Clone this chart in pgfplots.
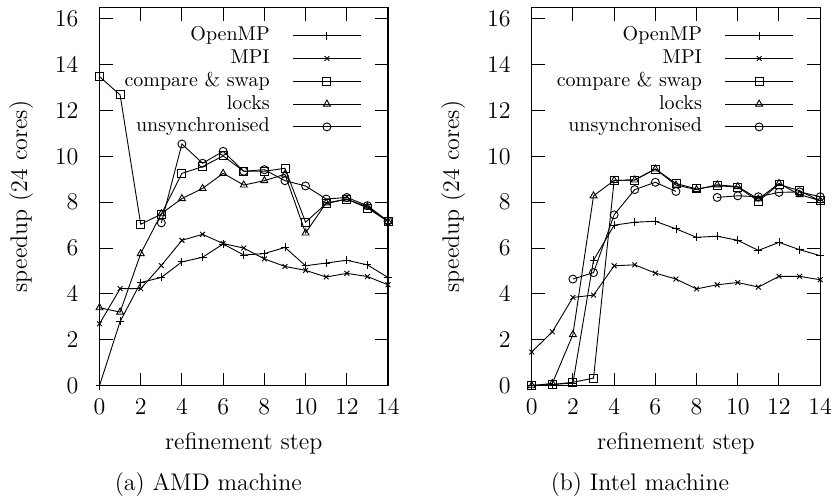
\documentclass[border=0pt]{standalone}
\usepackage{pgfplots}
\pgfplotsset{compat=1.18}
\begin{document}
\begin{tikzpicture}
\path[use as bounding box] (0,0) rectangle (417pt,250pt);
\pgfplotsset{
  speedup/.style={
    scale only axis, width=144.25pt, height=189.2pt,
    anchor=south west,
    xmin=0, xmax=14, ymin=0, ymax=16.5,
    xtick={0,2,...,14}, ytick={0,2,...,16},
    major tick length=6.6pt,
    tick style={line width=0.5pt, black},
    axis line style={line width=0.6pt},
    tick label style={font=\large},
    xticklabel style={yshift=-3.35pt},
    yticklabel style={xshift=-7pt},
    xlabel={refinement step}, ylabel={speedup (24 cores)},
    label style={font=\large},
    xlabel style={at={(axis description cs:0.5,-0.1514)}, anchor=center},
    ylabel style={at={(axis description cs:-0.272,0.5)}, anchor=center},
    unbounded coords=jump,
    clip=false,
    cycle list={{black}},
    legend cell align=right, legend plot pos=right,
    legend style={at={(1,1)}, anchor=north east, xshift=-13.15pt, yshift=-8.3pt,
      draw=none, fill=none, inner sep=0pt, column sep=11.5pt, row sep=0pt,
      nodes={inner xsep=0pt, inner ysep=1.25pt, text height=6.9pt, text depth=2pt}},
    legend image code/.code={\draw[mark repeat=2,mark phase=2]
      plot coordinates {(0pt,0pt) (16.9pt,0pt) (33.85pt,0pt)};},
    every axis plot/.append style={black, line width=0.45pt,
      mark options={solid, line width=0.45pt}, mark size=2pt},
  }
}

% (a) AMD machine
\begin{axis}[speedup, at={(49.75pt,57.15pt)}]
% OpenMP
\addplot+[mark=+] coordinates {
  (0,0) (1,2.8) (2,4.5) (3,4.72) (4,5.4) (5,5.6) (6,6.18) (7,5.7)
  (8,5.76) (9,6.03) (10,5.23) (11,5.35) (12,5.47) (13,5.27) (14,4.72)
};
% MPI
\addplot+[mark=x, mark size=1.7pt] coordinates {
  (0,2.7) (1,4.23) (2,4.23) (3,5.24) (4,6.34) (5,6.6) (6,6.2) (7,6.0)
  (8,5.53) (9,5.2) (10,5.03) (11,4.74) (12,4.9) (13,4.76) (14,4.4)
};
% compare & swap
\addplot+[mark=square] coordinates {
  (0,13.48) (1,12.68) (2,7.04) (3,7.48) (4,9.26) (5,9.55) (6,10.02) (7,9.35)
  (8,9.35) (9,9.48) (10,7.13) (11,7.94) (12,8.14) (13,7.75) (14,7.16)
};
% locks
\addplot+[mark=triangle] coordinates {
  (0,3.4) (1,3.21) (2,5.76) (3,7.5) (4,8.16) (5,8.6) (6,9.26) (7,8.75)
  (8,8.94) (9,9.22) (10,6.66) (11,7.97) (12,8.13) (13,7.8) (14,7.16)
};
% unsynchronised
\addplot+[mark=o] coordinates {
  (3,7.1) (4,10.54) (5,9.7) (6,10.22) (7,9.35) (8,9.42) (9,8.94)
  (10,8.71) (11,8.14) (12,8.21) (13,7.85) (14,7.18)
};
\legend{OpenMP, MPI, compare \& swap, locks, unsynchronised}
\node[font=\large] at (axis description cs:0.377,-0.2624) {(a) AMD machine};
\end{axis}

% (b) Intel machine
\begin{axis}[speedup, at={(265.85pt,57.15pt)}]
% OpenMP
\addplot+[mark=+] coordinates {
  (0,0.02) (1,0.05) (2,0.12) (3,5.47) (4,7.0) (5,7.13) (6,7.17) (7,6.84)
  (8,6.47) (9,6.52) (10,6.34) (11,5.9) (12,6.25) (13,5.93) (14,5.67)
};
% MPI
\addplot+[mark=x, mark size=1.7pt] coordinates {
  (0,1.47) (1,2.35) (2,3.85) (3,3.95) (4,5.23) (5,5.27) (6,4.91) (7,4.65)
  (8,4.22) (9,4.4) (10,4.5) (11,4.3) (12,4.77) (13,4.77) (14,4.62)
};
% compare & swap
\addplot+[mark=square] coordinates {
  (0,0) (1,0.05) (2,0.15) (3,0.33) (4,8.95) (5,8.97) (6,9.45) (7,8.82)
  (8,8.58) (9,8.72) (10,8.66) (11,8.05) (12,8.78) (13,8.5) (14,8.06)
};
% locks
\addplot+[mark=triangle] coordinates {
  (0,0) (1,0.1) (2,2.23) (3,8.28) (4,8.95) (5,8.97) (6,9.45) (7,8.75)
  (8,8.55) (9,8.76) (10,8.68) (11,8.14) (12,8.82) (13,8.33) (14,8.07)
};
% unsynchronised
\addplot+[mark=o] coordinates {
  (2,4.65) (3,4.93) (4,7.45) (5,8.55) (6,8.87) (7,8.47) (8,nan)
  (9,8.21) (10,8.28) (11,8.24) (12,8.43) (13,8.45) (14,8.24)
};
\legend{OpenMP, MPI, compare \& swap, locks, unsynchronised}
\node[font=\large] at (axis description cs:0.375,-0.2624) {(b) Intel machine};
\end{axis}
\end{tikzpicture}
\end{document}
